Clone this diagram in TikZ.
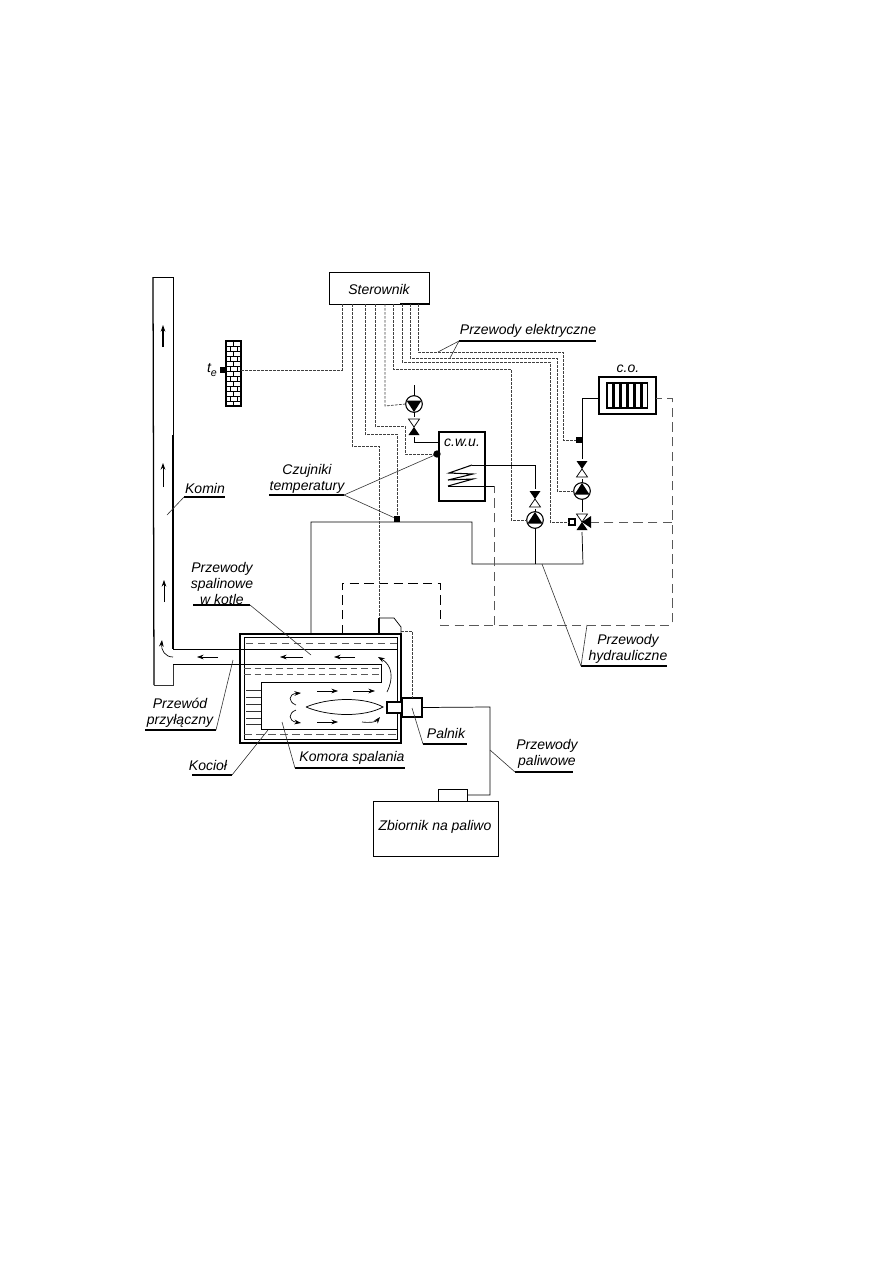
\documentclass[tikz,border=0pt]{standalone}
\usepackage{fontspec}
\setmainfont{Liberation Sans}
\usetikzlibrary{arrows.meta,calc}
\tikzset{
  x=0.75pt,y=-0.75pt,
  line/.style={draw=black,line width=0.55pt},
  thickline/.style={draw=black,line width=0.95pt},
  leader/.style={draw=black!80,line width=0.45pt},
  under/.style={draw=black,line width=0.8pt},
  signal/.style={draw=black!75,line width=0.55pt,dash pattern=on 2pt off 1pt},
  retline/.style={draw=black!65,line width=0.5pt,dash pattern=on 7pt off 4pt},
  retdark/.style={draw=black,line width=0.6pt,dash pattern=on 7pt off 4pt},
  flow/.style={draw=black,line width=0.5pt,-{Stealth[length=5pt,width=3.5pt]}},
  boxn/.style 2 args={draw=black,line width=0.7pt,fill=white,inner sep=0pt,outer sep=0pt,minimum width=#1*0.75pt,minimum height=#2*0.75pt},
  pumpn/.style={draw=black,line width=0.8pt,fill=white,circle,inner sep=0pt,outer sep=0pt,minimum size=12.5pt},
  sens/.style={fill=black,inner sep=0pt,outer sep=0pt,minimum size=5pt},
  valven/.style={inner sep=0pt,outer sep=0pt,minimum width=9pt,minimum height=15pt},
  txt/.style={font=\fontsize{10.5}{12}\selectfont\itshape,inner sep=0pt,outer sep=0pt,align=center}
}
% pump with triangle: #1 name, #2 x, #3 y, #4 = +1 points up, -1 points down
\newcommand{\mypump}[4]{%
  \node[pumpn] (#1) at (#2,#3) {};
  \begin{scope}[shift={(#1.center)}]
    \fill (-7.5,{#4*3.5}) -- (7.5,{#4*3.5}) -- (0,{-#4*8}) -- cycle;
  \end{scope}}
% valve: #1 name, #2 x, #3 y, #4 = 1 top filled, 0 bottom filled
\newcommand{\myvalve}[4]{%
  \node[valven] (#1) at (#2,#3) {};
  \begin{scope}[shift={(#1.center)}]
    \ifnum#4=1
      \fill (-5.5,-8) -- (5.5,-8) -- (0,0) -- cycle;
      \draw[line,fill=white] (-5.5,8) -- (5.5,8) -- (0,0) -- cycle;
    \else
      \draw[line,fill=white] (-5.5,-8) -- (5.5,-8) -- (0,0) -- cycle;
      \fill (-5.5,8) -- (5.5,8) -- (0,0) -- cycle;
    \fi
  \end{scope}}
\begin{document}
\begin{tikzpicture}
\useasboundingbox[fill=white] (0,0) rectangle (893,1263);

% ---- chimney
\coordinate (chTL) at (153,277);
\coordinate (chTR) at (173,277);
\coordinate (chBL) at (154,685);
\coordinate (chBR) at (173,685);
\draw[thickline] (chTL) -- (chBL);
\draw[leader] (chBL) -- (chBR) -- (173,664);
\draw[line] (chTL) -- (chTR) -- (173,435);
\draw[thickline] (173,435) -- (173,649);
\draw[flow,line width=0.9pt] (163,347) -- (163,325);
\draw[flow,line width=0.7pt] (163,487) -- (163,463);
\draw[flow] (164,602) -- (164,580);

% ---- boiler
\node[boxn={161}{109},line width=1.1pt] (boiler) at (320.5,688.5) {};
\draw[line] (244,637) rectangle (397,739);
\coordinate (fluTR) at (397,649);
\draw[line] (173,649) -- (fluTR);
\draw[retdark] (244,649) -- (397,649);
\draw[retline,dash pattern=on 5pt off 4pt] (246,643) -- (397,643);
% stack
\coordinate (stA) at (379,634);
\coordinate (stB) at (379,618);
\coordinate (stC) at (394,618);
\coordinate (stD) at (401,627);
\coordinate (stE) at (401,634);
\draw[thickline] (stA) -- (stB);
\draw[line] (stB) -- (stC) -- (stD) -- (stE);
% combustion chamber
\draw[line] (173,664) -- (244,664);
\draw[line,line width=0.7pt] (244,664) -- (381,664) -- (381,682) -- (261,682) -- (261,729) -- (397,729);
\draw[retline,dash pattern=on 5pt off 3pt] (244,668) -- (381,668);
\draw[retline,dash pattern=on 5pt off 3pt] (244,674) -- (381,674);
\draw[retline,dash pattern=on 6pt off 3pt] (244,734) -- (397,734);
\foreach \yy in {690,697,704,711,718,724}{\draw[leader] (246,\yy) -- (261,\yy);}
% burner
\node[boxn={15}{11},line width=1pt] (burnin) at (394.5,707.5) {};
\node[boxn={20}{19},line width=1pt] (burner) at (412,707.5) {};
\draw[line] (306,707) .. controls (330,697) and (365,697) .. (383,707) .. controls (365,717) and (330,717) .. (306,707);
% flow arrows
\draw[flow] (173,657) .. controls (165,657) and (161,650) .. (162,640);
\draw[flow] (218,657) -- (197,657);
\draw[flow] (303,657) -- (280,657);
\draw[flow] (355,657) -- (334,657);
\draw[flow] (387,692) .. controls (394,678) and (392,665) .. (378,657);
\draw[flow] (317,691) -- (338,691);
\draw[flow] (353,691) -- (375,691);
\draw[flow] (317,722) -- (338,722);
\draw[flow] (362,722) .. controls (370,723) and (376,722) .. (380,717);
\draw[flow] (296,705) .. controls (288,702) and (288,694) .. (301,693);
\draw[flow] (296,710) .. controls (288,713) and (288,721) .. (301,723);

% ---- tank
\node[boxn={125}{55}] (tank) at (435.5,828.5) {};
\node[boxn={29}{12}] (cap) at (452.5,795) {};
\node[txt] (tanklabel) at (435,827) {Zbiornik na paliwo};
\coordinate (fuelA) at (490,707);
\coordinate (fuelB) at (490,795);
\draw[line] (burner.east) -- (fuelA) -- (fuelB) -- (cap.east);

% ---- controller
\node[boxn={100}{32}] (ster) at (379,288) {};
\node[txt] (sterlabel) at (379,289) {Sterownik};
\draw[thickline] (429.5,284) -- (429.5,304) -- (400,304);

% ---- wall
\foreach \r [evaluate=\r as \yy using 341+\r*5] in {0,...,12}{
  \draw[line,line width=0.4pt] (226,\yy) -- (241,\yy);
  \pgfmathtruncatemacro{\odd}{mod(\r,2)}
  \ifnum\odd=0
    \draw[line,line width=0.4pt] (233,\yy) -- (233,\yy+5);
  \else
    \draw[line,line width=0.4pt] (230,\yy) -- (230,\yy+5) (237,\yy) -- (237,\yy+5);
  \fi
}
\node[inner sep=0pt,outer sep=0pt,draw=black,line width=0.8pt,minimum width=11.25pt,minimum height=48.75pt] (wall) at (233.5,373.5) {};
\node[sens] (walls) at (223,370) {};
\node[txt] (telabel) at (212,370) {t\raisebox{-2.5pt}{\fontsize{8}{9}\selectfont e}};

% ---- hydraulic devices
\mypump{pa}{535}{520}{1}
\mypump{pb}{582}{491}{1}
\mypump{pc}{414}{404}{-1}
\myvalve{va}{535}{499}{1}
\myvalve{vb}{582}{469}{1}
\myvalve{vc}{414}{427}{0}
\myvalve{vm}{582}{522}{0}
\fill (vm.center) -- (591,516) -- (591,528) -- cycle;
\node[draw=black,line width=0.8pt,fill=white,inner sep=0pt,outer sep=0pt,minimum size=4.5pt] (vmact) at (572,522) {};

% ---- c.w.u.
\node[boxn={46}{69},line width=0.9pt] (cwu) at (462,466.5) {};
\node[txt] (cwulabel) at (462,443) {c.w.u.};
\coordinate (coilT) at (472,465);
\coordinate (coilB) at (448,486);
\draw[line,line width=0.8pt] (coilT) -- (449,473) -- (473,474) -- (448,480) -- (473,479) -- (coilB);
\coordinate (coilOut) at (494,486);
\draw[line] (coilB) -- (coilOut);

% ---- radiator
\node[boxn={57}{37},line width=0.9pt] (rad) at (627.5,395.5) {};
\node[txt] (colabel) at (628,369) {c.o.};
\foreach \xx in {607,614,621,628,635,642}{\draw[line,line width=0.8pt] (\xx,383) rectangle (\xx+5.5,408);}

% ---- hydraulic pipes
\coordinate (hA) at (311,634);
\coordinate (hB) at (311,522);
\node[sens] (ts) at (397,519) {};
\coordinate (hC) at (472,522);
\coordinate (hD) at (472,564);
\coordinate (hE) at (583,564);
\coordinate (hJ) at (535,564);
\draw[line] (hA) -- (hB) -- (hC) -- (hD) -- (hE) -- (vm.south);
\draw[line] (hJ) -- (pa.south);
\draw[line] (pa.north) -- (va.south);
\coordinate (vaT) at (535,465);
\draw[line] (va.north) -- (vaT) -- (coilT);
\draw[line] (vm.north) -- (pb.south);
\draw[line] (pb.north) -- (vb.south);
\coordinate (vbT) at (582,398);
\draw[line] (vb.north) -- (vbT) -- (vbT -| rad.west);
\coordinate (pcT) at (414,385);
\draw[line] (pcT) -- (pc.north);
\draw[line] (pc.south) -- (vc.north);
\coordinate (vcB) at (414,442);
\draw[line] (vc.south) -- (vcB) -- (vcB -| cwu.west);

% ---- return pipes (dashed)
\coordinate (rA) at (342,634);
\coordinate (rB) at (342,583);
\coordinate (rC) at (440,583);
\coordinate (rD) at (440,625);
\coordinate (rE) at (672,625);
\coordinate (rF) at (672,398);
\coordinate (rG) at (494,625);
\draw[retdark] (rA) -- (rB) -- (rC) -- (rD);
\draw[retline] (rD) -- (rE) -- (rF) -- (rF -| rad.east);
\draw[retline] (rG) -- (coilOut);
\coordinate (rH) at (672,522);
\draw[retline] (rH) -- (591,522);

% ---- signal lines
\node[sens,circle,minimum size=5.5pt] (ts2) at (437,454) {};
\node[sens] (ts3) at (579,440) {};
\coordinate (s1) at (342,304);
\draw[signal] (s1) -- (342,370) -- (wall.east |- walls);
\coordinate (s2) at (352,304);
\draw[signal] (s2) -- (352,446) -- (379,446) -- (stB);
\coordinate (s3) at (365,304);
\draw[signal] (s3) -- (365,434) -- (397,434) -- (ts);
\coordinate (s4) at (375,304);
\draw[signal] (s4) -- (375,426) -- (405,426) -- (405,454) -- (ts2);
\coordinate (s5) at (385,304);
\draw[signal] (s5) -- (385,406) -- (pc.west);
\coordinate (s6) at (393,304);
\draw[signal] (s6) -- (393,369) -- (511,369) -- (511,520) -- (pa.west);
\coordinate (s7) at (402,304);
\draw[signal] (s7) -- (402,362) -- (550,362) -- (550,522) -- (vmact.west);
\coordinate (s8) at (410,304);
\draw[signal] (s8) -- (410,358) -- (557,358) -- (557,491) -- (pb.west);
\coordinate (s9) at (418,304);
\draw[signal] (s9) -- (418,352) -- (563,352) -- (563,440) -- (ts3);
\coordinate (s10) at (412,631);
\draw[signal] (stD |- s10) -- (s10) -- (s10 |- burner.north);

% ---- labels
\node[txt] (lkomin) at (205,488) {Komin};
\coordinate (ukA) at (184,497); \coordinate (ukB) at (225,497); \coordinate (ukC) at (167,515);
\draw[under] (ukA) -- (ukB); \draw[leader] (ukA) -- (ukC);

\node[txt] (lczuj) at (307,478.5) {Czujniki\\temperatury};
\coordinate (ucA) at (269,495); \coordinate (ucB) at (344,495);
\draw[under] (ucA) -- (ucB); \draw[leader] (ucB) -- (ts2); \draw[leader] (ucB) -- (ts);

\node[txt] (lelek) at (528,331) {Przewody elektryczne};
\coordinate (ueA) at (459,341); \coordinate (ueB) at (596,341);
\coordinate (ueC) at (438,352); \coordinate (ueD) at (450,358);
\draw[under] (ueA) -- (ueB); \draw[leader] (ueA) -- (ueC); \draw[leader] (ueA) -- (ueD);

\node[txt] (lspal) at (222,583) {Przewody\\spalinowe\\w kotle};
\coordinate (usA) at (193,605); \coordinate (usB) at (250,605); \coordinate (usC) at (311,655);
\draw[under] (usA) -- (usB); \draw[leader] (usB) -- (usC);

\node[txt] (lprzyl) at (180,712.5) {Przewód\\przyłączny};
\coordinate (upA) at (145,730); \coordinate (upB) at (216,730); \coordinate (upC) at (233,660);
\draw[under] (upA) -- (upB); \draw[leader] (upB) -- (upC);

\node[txt] (lkociol) at (208,765) {Kocioł};
\coordinate (ukoA) at (192,775); \coordinate (ukoB) at (232,775); \coordinate (ukoC) at (268,730);
\draw[under] (ukoA) -- (ukoB); \draw[leader] (ukoB) -- (ukoC);

\node[txt] (lkomora) at (352,758) {Komora spalania};
\coordinate (ukmA) at (295,768); \coordinate (ukmB) at (405,768); \coordinate (ukmC) at (282,722);
\draw[under] (ukmA) -- (ukmB); \draw[leader] (ukmA) -- (ukmC);

\node[txt] (lpalnik) at (446,733) {Palnik};
\coordinate (uplA) at (423,744); \coordinate (uplB) at (467,744); \coordinate (uplC) at (412,708);
\draw[under] (uplA) -- (uplB); \draw[leader] (uplA) -- (uplC);

\node[txt] (lpaliw) at (547,754) {Przewody\\paliwowe};
\coordinate (ufA) at (515,772); \coordinate (ufB) at (573,772); \coordinate (ufC) at (490,750);
\draw[under,line width=1pt] (ufA) -- (ufB); \draw[leader] (ufA) -- (ufC);

\node[txt] (lhydr) at (628,649) {Przewody\\hydrauliczne};
\coordinate (uhA) at (581,666); \coordinate (uhB) at (667,666);
\coordinate (uhC) at (542,564); \coordinate (uhD) at (587,625);
\draw[under] (uhA) -- (uhB); \draw[leader] (uhA) -- (uhC); \draw[leader] (uhA) -- (uhD);
\end{tikzpicture}
\end{document}
